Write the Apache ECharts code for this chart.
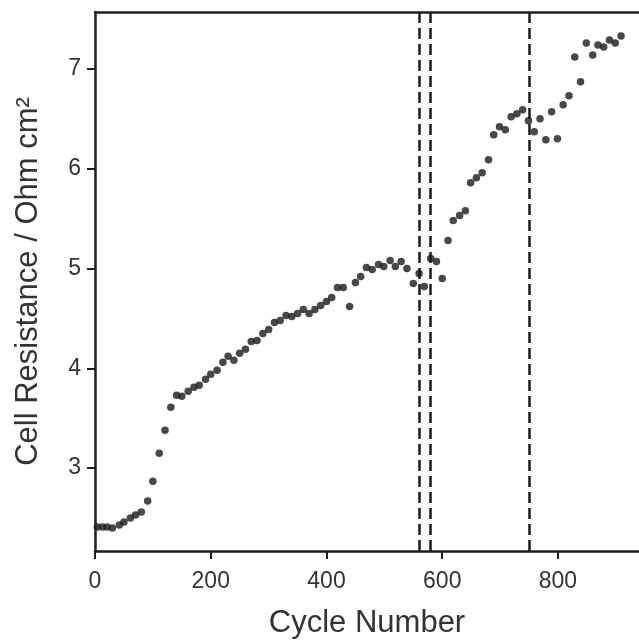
<!DOCTYPE html>
<html>
<head>
<meta charset="utf-8">
<script src="https://cdn.jsdelivr.net/npm/echarts@6/dist/echarts.min.js"></script>
<style>
  html, body { margin: 0; padding: 0; background: #fff; }
  #chart { width: 639px; height: 640px; }
</style>
</head>
<body>
<div id="chart"></div>
<script>
// cycle number of each measurement
const cycles = [4, 13, 21, 30, 42, 50, 61, 70, 80, 91, 100, 111, 121, 131, 141, 150, 161, 171, 180, 191,
  200, 211, 221, 230, 240, 250, 260, 270, 280, 290, 300, 310, 320, 330, 340, 350, 360, 370, 380, 390,
  400, 409, 419, 429, 440, 450, 459, 469, 479, 490, 499, 510, 519, 529, 539, 550, 560, 569, 580, 590,
  600, 610, 619, 630, 640, 649, 659, 669, 680, 689, 699, 709, 719, 729, 739, 749, 759, 769, 779, 789,
  799, 809, 819, 829, 839, 849, 860, 869, 879, 889, 899, 909];
// cell resistance (Ohm cm2)
const resistance = [2.41, 2.41, 2.41, 2.40, 2.43, 2.46, 2.50, 2.53, 2.56, 2.67, 2.87, 3.15, 3.38, 3.61, 3.73, 3.72, 3.77, 3.81, 3.83, 3.89,
  3.94, 3.98, 4.06, 4.12, 4.08, 4.15, 4.19, 4.27, 4.28, 4.35, 4.39, 4.46, 4.48, 4.53, 4.52, 4.55, 4.59, 4.55, 4.59, 4.63,
  4.67, 4.71, 4.81, 4.81, 4.62, 4.86, 4.92, 5.01, 4.99, 5.04, 5.02, 5.08, 5.02, 5.07, 5.00, 4.85, 4.95, 4.82, 5.10, 5.07,
  4.90, 5.28, 5.48, 5.53, 5.58, 5.86, 5.91, 5.96, 6.09, 6.34, 6.42, 6.39, 6.52, 6.55, 6.59, 6.48, 6.37, 6.50, 6.29, 6.57,
  6.30, 6.64, 6.73, 7.12, 6.87, 7.26, 7.14, 7.24, 7.22, 7.29, 7.26, 7.33];
// dashed vertical markers
const markerCycles = [560, 580, 750];
const xTicks = [0, 200, 400, 600, 800];
const yTicks = [3, 4, 5, 6, 7];

const axisColor = '#1e1e1e';
const textColor = '#333';
const font = '"Liberation Sans", Arial, sans-serif';

let chart = echarts.init(document.getElementById('chart'), null, {renderer: 'canvas'});

chart.setOption({
  animation: false,
  grid: {left: 95, right: 0, top: 12, bottom: 89, containLabel: false, outerBoundsMode: 'none'},
  xAxis: [
    {
      type: 'value',
      min: 0,
      max: 940,
      position: 'bottom',
      name: 'Cycle Number',
      nameLocation: 'middle',
      nameGap: 57,
      nameTextStyle: {fontSize: 31, color: textColor, fontFamily: font},
      axisLine: {show: true, lineStyle: {color: axisColor, width: 2.5}},
      axisTick: {show: true, inside: false, length: 8, customValues: xTicks, lineStyle: {color: axisColor, width: 2}},
      axisLabel: {fontSize: 23, color: textColor, fontFamily: font, margin: 19, customValues: xTicks},
      splitLine: {show: false}
    },
    {
      type: 'value',
      min: 0,
      max: 940,
      position: 'top',
      axisLine: {show: true, lineStyle: {color: axisColor, width: 2.5}},
      axisTick: {show: false},
      axisLabel: {show: false},
      splitLine: {show: false}
    }
  ],
  yAxis: {
    type: 'value',
    min: 2.17,
    max: 7.57,
    name: 'Cell Resistance / Ohm cm²',
    nameLocation: 'middle',
    nameGap: 51,
    nameTextStyle: {fontSize: 31, color: textColor, fontFamily: font},
    axisLine: {show: true, lineStyle: {color: axisColor, width: 2.5}},
    axisTick: {show: true, inside: false, length: 8, customValues: yTicks, lineStyle: {color: axisColor, width: 2}},
    axisLabel: {fontSize: 23, color: textColor, fontFamily: font, margin: 14, customValues: yTicks},
    splitLine: {show: false}
  },
  series: [
    {
      type: 'scatter',
      xAxisIndex: 0,
      data: cycles.map((c, i) => [c, resistance[i]]),
      symbolSize: 7.5,
      itemStyle: {color: '#1a1a1a'},
      markLine: {
        silent: true,
        symbol: 'none',
        label: {show: false},
        lineStyle: {color: '#1a1a1a', width: 2.5, type: [11, 5]},
        data: markerCycles.map(v => ({xAxis: v}))
      }
    }
  ]
});
</script>
</body>
</html>
